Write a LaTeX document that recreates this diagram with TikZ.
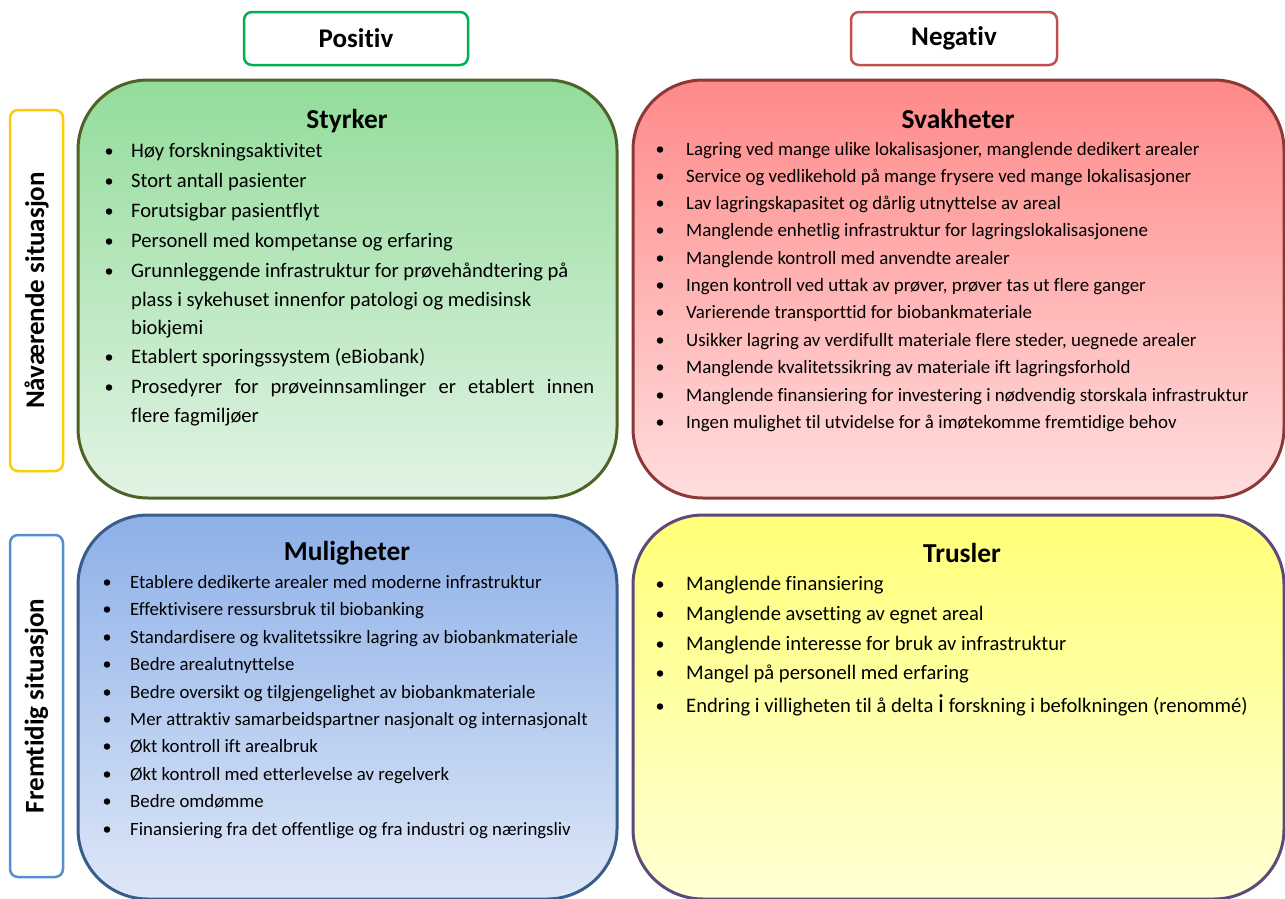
\documentclass[tikz,border=0pt]{standalone}
\usepackage{fontspec}
\setmainfont{Carlito}[Ligatures=NoCommon]
\definecolor{hgreen}{RGB}{0,176,80}
\definecolor{hred}{RGB}{192,80,77}
\definecolor{hyellow}{RGB}{255,204,0}
\definecolor{hblue}{RGB}{85,142,213}
\definecolor{bgreen}{RGB}{79,98,40}
\definecolor{bred}{RGB}{140,56,54}
\definecolor{bblue}{RGB}{56,93,138}
\definecolor{bpurple}{RGB}{94,73,122}
\definecolor{gtop}{RGB}{147,220,155}
\definecolor{gbot}{RGB}{226,243,228}
\definecolor{rtop}{RGB}{255,137,137}
\definecolor{rbot}{RGB}{255,222,222}
\definecolor{btop}{RGB}{141,176,232}
\definecolor{bbot}{RGB}{222,231,247}
\definecolor{ytop}{RGB}{255,255,120}
\definecolor{ybot}{RGB}{255,255,212}
\begin{document}
\begin{tikzpicture}[x=1pt,y=-1pt,
  hdr/.style={draw, line width=2.5pt, rounded corners=8pt, fill=white, inner sep=0pt,
    font=\bfseries\fontsize{27}{30}\selectfont},
  quad/.style={draw, line width=3pt, rounded corners=70pt, inner sep=0pt},
  ttl/.style={font=\bfseries\fontsize{27.4}{30}\selectfont, inner sep=0pt},
  bul/.style={circle, fill=black, inner sep=0pt, minimum size=6.5pt},
  txt/.style={anchor=base west, inner sep=0pt},
  fa/.style={font=\fontsize{20.6}{24}\selectfont},
  fb/.style={font=\fontsize{18.9}{22}\selectfont},
  fc/.style={font=\fontsize{18.8}{22}\selectfont},
  fd/.style={font=\fontsize{20.6}{24}\selectfont},
]
\useasboundingbox (0,0) rectangle (1285,898);

% header boxes
\node[hdr, draw=hgreen, minimum width=224pt, minimum height=53pt] (pos) at (356,38.5) {Positiv};
\node[hdr, draw=hred, minimum width=206pt, minimum height=53pt] (neg) at (954,38.5) {Negativ};
\node[hdr, draw=hyellow, rotate=90, minimum width=361pt, minimum height=53pt] (nav) at (36.5,290.5) {Nåværende situasjon};
\node[hdr, draw=hblue, rotate=90, minimum width=342pt, minimum height=53pt] (frem) at (36.5,706) {Fremtidig situasjon};

% quadrants
\node[quad, draw=bgreen, top color=gtop, bottom color=gbot, minimum width=539pt, minimum height=418pt] (sty) at (347.5,289) {};
\node[quad, draw=bred, top color=rtop, bottom color=rbot, minimum width=651pt, minimum height=418pt] (sva) at (958.5,289) {};
\node[quad, draw=bblue, top color=btop, bottom color=bbot, minimum width=539pt, minimum height=384pt] (mul) at (347.5,707) {};
\node[quad, draw=bpurple, top color=ytop, bottom color=ybot, minimum width=651pt, minimum height=384pt] (tru) at (958.5,707) {};

\node[ttl] (styt) at (347,121) {Styrker};
\node[ttl] (svat) at (958,119) {Svakheter};
\node[ttl] (mult) at (347,553) {Muligheter};
\node[ttl] (trut) at (962,553) {Trusler};

% Styrker
\foreach \n/\y/\b/\t in {
  1/150/1/{Høy forskningsaktivitet},
  2/180/1/{Stort antall pasienter},
  3/210/1/{Forutsigbar pasientflyt},
  4/240/1/{Personell med kompetanse og erfaring},
  5/270/1/{Grunnleggende infrastruktur for prøvehåndtering på},
  6/299/0/{plass i sykehuset innenfor patologi og medisinsk},
  7/327/0/{biokjemi},
  8/356/1/{Etablert sporingssystem (eBiobank)},
  9/386/1/{\makebox[463pt][s]{Prosedyrer for prøveinnsamlinger er etablert innen}},
  10/415/0/{flere fagmiljøer}} {
  \node[txt, fa] (sty\n) at (131,\y+7.5) {\t};
  \ifnum\b=1 \node[bul] (styb\n) at (109,\y+1.5) {};\fi
}

% Svakheter
\foreach \n/\y/\t in {
  1/149/{Lagring ved mange ulike lokalisasjoner, manglende dedikert arealer},
  2/176/{Service og vedlikehold på mange frysere ved mange lokalisasjoner},
  3/203/{Lav lagringskapasitet og dårlig utnyttelse av areal},
  4/230/{Manglende enhetlig infrastruktur for lagringslokalisasjonene},
  5/258/{Manglende kontroll med anvendte arealer},
  6/285/{Ingen kontroll ved uttak av prøver, prøver tas ut flere ganger},
  7/312/{Varierende transporttid for biobankmateriale},
  8/340/{Usikker lagring av verdifullt materiale flere steder, uegnede arealer},
  9/367/{Manglende kvalitetssikring av materiale ift lagringsforhold},
  10/395/{Manglende finansiering for investering i nødvendig storskala infrastruktur},
  11/422/{Ingen mulighet til utvidelse for å imøtekomme fremtidige behov}} {
  \node[txt, fb] (sva\n) at (686,\y+6) {\t};
  \node[bul] (svab\n) at (660,\y+0.5) {};
}

% Muligheter
\foreach \n/\y/\t in {
  1/582/{Etablere dedikerte arealer med moderne infrastruktur},
  2/609/{Effektivisere ressursbruk til biobanking},
  3/637/{Standardisere og kvalitetssikre lagring av biobankmateriale},
  4/664/{Bedre arealutnyttelse},
  5/692/{Bedre oversikt og tilgjengelighet av biobankmateriale},
  6/719/{Mer attraktiv samarbeidspartner nasjonalt og internasjonalt},
  7/746/{Økt kontroll ift arealbruk},
  8/774/{Økt kontroll med etterlevelse av regelverk},
  9/801/{Bedre omdømme},
  10/829/{Finansiering fra det offentlige og fra industri og næringsliv}} {
  \node[txt, fc] (mul\n) at (130,\y+6) {\t};
  \node[bul] (mulb\n) at (107,\y+0.5) {};
}

% Trusler
\foreach \n/\y/\t in {
  1/583/{Manglende finansiering},
  2/613/{Manglende avsetting av egnet areal},
  3/643/{Manglende interesse for bruk av infrastruktur},
  4/672/{Mangel på personell med erfaring},
  5/705/{Endring i villigheten til å delta {\fontsize{26}{26}\selectfont i} forskning i befolkningen (renommé)}} {
  \node[txt, fd] (tru\n) at (686,\y+7.5) {\t};
  \node[bul] (trub\n) at (660,\y+1.5) {};
}
\end{tikzpicture}
\end{document}
